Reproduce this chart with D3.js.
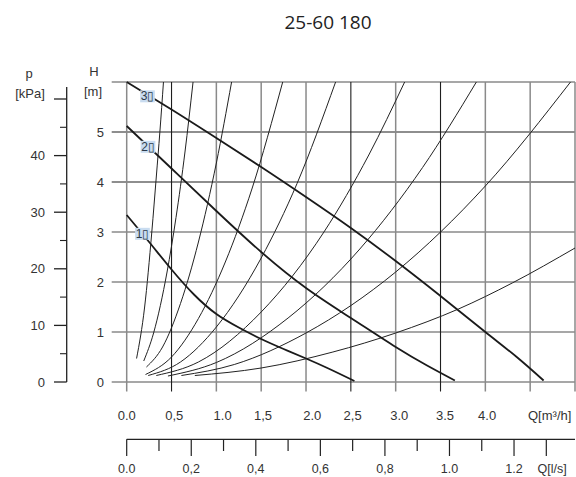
<!DOCTYPE html>
<html><head><meta charset="utf-8">
<script src="https://cdn.jsdelivr.net/npm/d3@7"></script>
<style>
html,body{margin:0;padding:0;background:#fff;}
svg text{font-family:"Liberation Sans",Arial,sans-serif;fill:#333;}
</style>
</head><body>
<svg id="chart" width="576" height="477"></svg>
<script>
// ---------- data ----------
const title = "25-60 180";
const hTicks = [0, 1, 2, 3, 4, 5];
const hGrid = [0, 1, 2, 3, 4, 5, 6];
const hGridDark = [4, 5];
const qGrid = [0, 0.5, 1, 1.5, 2, 2.5, 3, 3.5, 4, 4.5, 5];
const qGridDark = [0.5, 2.5, 3.5];
const qLabels = ["0.0", "0,5", "1.0", "1,5", "2.0", "2,5", "3.0", "3.5", "4.0"];
const qLabelPos = [0, 0.53, 1.07, 1.52, 2.07, 2.52, 3.04, 3.55, 4.02];
const pMajor = [0, 10, 20, 30, 40, 50];
const pLabels = ["0", "10", "20", "30", "40", ""];
const pMinor = [5, 15, 25, 35, 45];
const lsTicks = [0, 0.1, 0.2, 0.3, 0.4, 0.5, 0.6, 0.7, 0.8, 0.9, 1.0, 1.1, 1.2, 1.3];
const lsLong = [0, 0.2, 0.4, 0.6, 0.8, 1.0, 1.2, 1.3];
const lsLabels = ["0.0", "0,2", "0,4", "0,6", "0,8", "1.0", "1.2"];
const lsLabelVals = [0, 0.2, 0.4, 0.6, 0.8, 1.0, 1.2];

// pump curves (Q m3/h, H m)
const pump1 = [[0,3.34],[0.25,2.8],[0.5,2.25],[0.75,1.75],[1.0,1.36],[1.25,1.09],[1.5,0.86],[1.75,0.66],[2.0,0.47],[2.25,0.27],[2.54,0.02]];
const pump2 = [[0,5.12],[0.5,4.27],[1.0,3.42],[1.5,2.6],[2.0,1.88],[2.5,1.28],[3.0,0.7],[3.35,0.33],[3.66,0.03]];
const pump3 = [[0,6.0],[0.5,5.45],[1.0,4.88],[1.5,4.3],[2.0,3.7],[2.5,3.08],[3.0,2.42],[3.5,1.72],[4.0,1.0],[4.35,0.5],[4.65,0.03]];
const pumpNames = ["1", "2", "3"];
const pumpLabelPos = [[0.176, 2.97], [0.238, 4.71], [0.232, 5.72]];

// system curves
const sysA = [[0.11,0.47],[0.2,1.5],[0.28,3.0],[0.33,4.1],[0.37,5.0],[0.41,6.0]];
const sysB = [[0.19,0.42],[0.3,0.98],[0.45,2.2],[0.55,3.29],[0.65,4.6],[0.74,6.0]];
const sysC = [[0.22,0.3],[0.4,0.7],[0.6,1.57],[0.8,2.8],[1.0,4.38],[1.17,6.0]];
const sysD = [[0.21,0.15],[0.5,0.5],[0.8,1.27],[1.1,2.4],[1.4,3.88],[1.74,6.0]];
const sysE = [[0.24,0.13],[0.6,0.4],[1.0,1.1],[1.5,2.48],[1.9,3.97],[2.33,6.0]];
const sysF = [[0.33,0.13],[0.8,0.4],[1.5,1.4],[2.2,3.0],[2.7,4.54],[3.10,6.0]];
const sysG = [[0.46,0.12],[1.0,0.39],[1.8,1.28],[2.6,2.66],[3.3,4.29],[3.9,6.0]];
const sysH = [[0.61,0.13],[1.2,0.35],[2.0,0.98],[3.0,2.2],[4.0,3.92],[4.95,6.0]];
const sysI = [[0.76,0.13],[1.5,0.28],[2.3,0.6],[3.0,0.98],[3.7,1.46],[4.3,1.98],[5.0,2.68]];

// ---------- drawing ----------
const svg = d3.select("#chart");
const x = d3.scaleLinear().domain([0, 5]).range([126.7, 575]);
const y = d3.scaleLinear().domain([0, 6]).range([382, 82]);
const p = d3.scaleLinear().domain([0, 50]).range([382, 99]);
const ls = d3.scaleLinear().domain([0, 5 / 3.6]).range([x(0), x(5)]);

svg.append("text").attr("x", 328).attr("y", 29).attr("text-anchor", "middle")
  .style("font-family", "'Open Sans', sans-serif").style("font-size", "19px").style("fill", "#222")
  .text(title);

// grid
const g = svg.append("g");
g.selectAll("line.hg").data(hGrid).join("line")
  .attr("x1", 111.7).attr("x2", x(5))
  .attr("y1", d => y(d)).attr("y2", d => y(d))
  .attr("stroke", d => hGridDark.includes(d) ? "#1e1e1e" : "#8a8a8a")
  .attr("stroke-width", d => hGridDark.includes(d) ? 1.1 : 1.5);
g.selectAll("line.vg").data(qGrid).join("line")
  .attr("x1", d => x(d)).attr("x2", d => x(d))
  .attr("y1", y(6)).attr("y2", y(0) + 9.5)
  .attr("stroke", d => qGridDark.includes(d) ? "#1e1e1e" : "#8a8a8a")
  .attr("stroke-width", d => qGridDark.includes(d) ? 1.1 : 1.5);

// H axis labels
svg.selectAll("text.h").data(hTicks).join("text")
  .attr("x", 104).attr("y", d => y(d)).attr("dy", "0.36em")
  .attr("text-anchor", "end").style("font-size", "13px").text(d => d);
svg.append("text").attr("x", 94).attr("y", 76).attr("text-anchor", "middle").style("font-size", "13px").text("H");
svg.append("text").attr("x", 93).attr("y", 96).attr("text-anchor", "middle").style("font-size", "13px").text("[m]");

// p axis
const pa = svg.append("g");
pa.append("line").attr("x1", 66.7).attr("x2", 66.7).attr("y1", 87).attr("y2", p(0))
  .attr("stroke", "#222").attr("stroke-width", 1.3);
pa.selectAll("line.pm").data(pMajor).join("line")
  .attr("x1", 54).attr("x2", 66.7).attr("y1", d => p(d)).attr("y2", d => p(d))
  .attr("stroke", "#222").attr("stroke-width", 1.3);
pa.selectAll("line.pn").data(pMinor).join("line")
  .attr("x1", 60).attr("x2", 66.7).attr("y1", d => p(d)).attr("y2", d => p(d))
  .attr("stroke", "#222").attr("stroke-width", 1.1);
pa.selectAll("text.pl").data(pMajor).join("text")
  .attr("x", 45).attr("y", d => p(d)).attr("dy", "0.36em").attr("text-anchor", "end")
  .style("font-size", "13px").text((d, i) => pLabels[i]);
svg.append("text").attr("x", 29).attr("y", 78).attr("text-anchor", "middle").style("font-size", "13px").text("p");
svg.append("text").attr("x", 30).attr("y", 98).attr("text-anchor", "middle").style("font-size", "13px").text("[kPa]");

// Q m3/h labels
svg.selectAll("text.q").data(qLabels).join("text")
  .attr("x", (d, i) => x(qLabelPos[i])).attr("y", 420).attr("text-anchor", "middle")
  .style("font-size", "13px").text(d => d);
svg.append("text").attr("x", 528).attr("y", 420).style("font-size", "13px").text("Q[m³/h]");

// Q l/s axis
const la = svg.append("g");
la.append("line").attr("x1", x(0)).attr("x2", x(5)).attr("y1", 439.3).attr("y2", 439.3)
  .attr("stroke", "#222").attr("stroke-width", 1.3);
la.selectAll("line.lt").data(lsTicks).join("line")
  .attr("x1", d => ls(d)).attr("x2", d => ls(d))
  .attr("y1", 439.3).attr("y2", d => lsLong.includes(d) ? 456 : 451)
  .attr("stroke", "#222").attr("stroke-width", 1.2);
la.selectAll("text.ll").data(lsLabels).join("text")
  .attr("x", (d, i) => ls(lsLabelVals[i])).attr("y", 473).attr("text-anchor", "middle")
  .style("font-size", "12.5px").text(d => d);
svg.append("text").attr("x", 537.5).attr("y", 473).style("font-size", "12.5px").text("Q[l/s]");

// curves
const line = d3.line().x(d => x(d[0])).y(d => y(d[1])).curve(d3.curveMonotoneX);
const pline = d3.line().x(d => x(d[0])).y(d => y(d[1])).curve(d3.curveNatural);
const sys = [sysA, sysB, sysC, sysD, sysE, sysF, sysG, sysH, sysI];
svg.append("g").selectAll("path").data(sys).join("path")
  .attr("d", line).attr("fill", "none").attr("stroke", "#222").attr("stroke-width", 1);
const pumps = [pump1, pump2, pump3];
svg.append("g").selectAll("path").data(pumps).join("path")
  .attr("d", pline).attr("fill", "none").attr("stroke", "#1a1a1a").attr("stroke-width", 1.8);

// pump labels
const lg = svg.append("g");
pumpNames.forEach((n, i) => {
  const gg = lg.append("g");
  const t = gg.append("text").attr("x", x(pumpLabelPos[i][0])).attr("y", y(pumpLabelPos[i][1]))
    .attr("dy", "0.36em").attr("text-anchor", "middle")
    .style("font-size", "12px").style("fill", "#2a3a4a").text(n + "\u25AF");
  const b = t.node().getBBox();
  gg.insert("rect", "text").attr("x", b.x - 0.5).attr("y", b.y + 1).attr("width", b.width + 1).attr("height", b.height - 2)
    .attr("fill", "#c9dcf0");
});
</script>
</body></html>
